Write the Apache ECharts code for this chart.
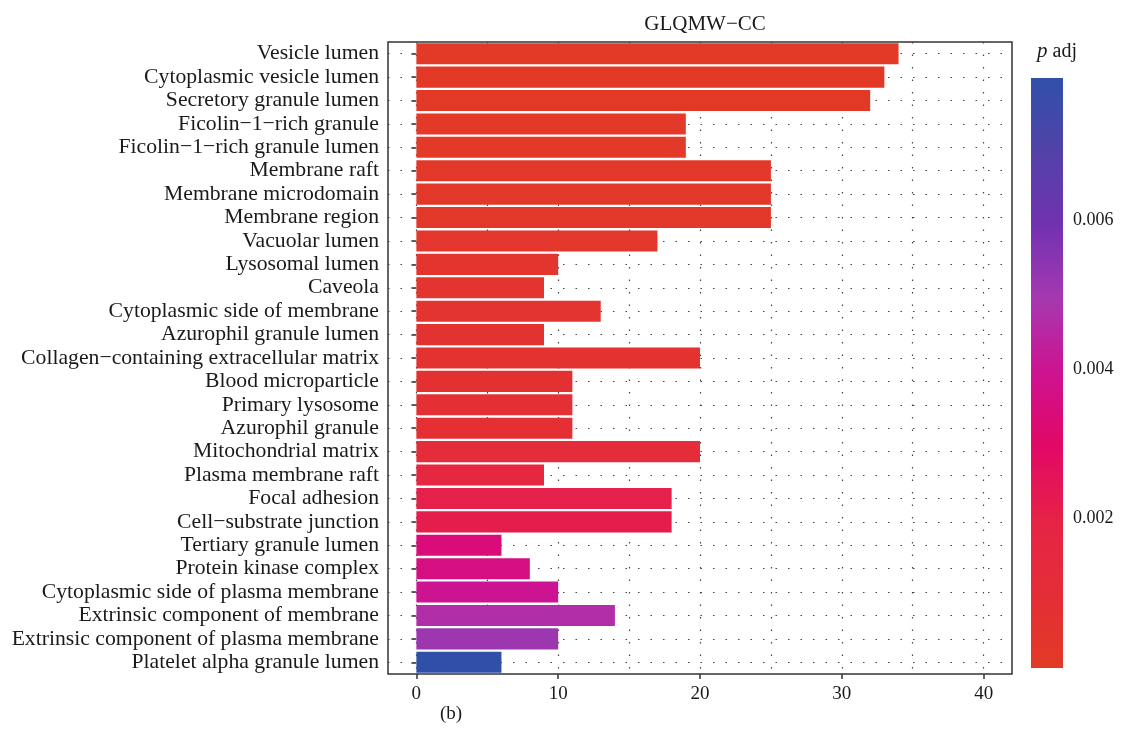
<!DOCTYPE html>
<html>
<head>
<meta charset="utf-8">
<script src="https://cdn.jsdelivr.net/npm/echarts@6/dist/echarts.min.js"></script>
<style>html,body{margin:0;padding:0;background:#fff;}#chart{width:1121px;height:748px;}</style>
</head>
<body>
<div id="chart"></div>
<script>
const categories = [
  'Vesicle lumen', 'Cytoplasmic vesicle lumen', 'Secretory granule lumen',
  'Ficolin\u22121\u2212rich granule', 'Ficolin\u22121\u2212rich granule lumen',
  'Membrane raft', 'Membrane microdomain', 'Membrane region', 'Vacuolar lumen',
  'Lysosomal lumen', 'Caveola', 'Cytoplasmic side of membrane', 'Azurophil granule lumen',
  'Collagen\u2212containing extracellular matrix', 'Blood microparticle', 'Primary lysosome',
  'Azurophil granule', 'Mitochondrial matrix', 'Plasma membrane raft', 'Focal adhesion',
  'Cell\u2212substrate junction', 'Tertiary granule lumen', 'Protein kinase complex',
  'Cytoplasmic side of plasma membrane', 'Extrinsic component of membrane',
  'Extrinsic component of plasma membrane', 'Platelet alpha granule lumen'
];
const geneCounts = [34, 33, 32, 19, 19, 25, 25, 25, 17, 10, 9, 13, 9, 20, 11, 11, 11, 20, 9, 18, 18, 6, 8, 10, 14, 10, 6];
const pAdj = [0.00004, 0.00005, 0.00008, 0.0001, 0.0001, 0.00015, 0.00015, 0.0002, 0.00035, 0.0004,
  0.0005, 0.0005, 0.0006, 0.0006, 0.0007, 0.0008, 0.0009, 0.0012, 0.0016, 0.0021, 0.0022,
  0.0034, 0.0036, 0.0040, 0.0047, 0.0051, 0.0079];
const xTickValues = [0, 10, 20, 30, 40];
const xGridValues = [0, 5, 10, 15, 20, 25, 30, 35, 40];
const legendTickValues = [0.002, 0.004, 0.006];
const pMin = 0, pMax = 0.0079;
const xMin = -2, xMax = 42;

const rampColors = ['#E23A26', '#E42E37', '#E62346', '#E20866', '#CE1290', '#A638B0', '#7232B0', '#5242A8', '#3050A8'];
const FONT = 'Liberation Serif';
const TXT = '#1a1a1a';

const chart = echarts.init(document.getElementById('chart'), null, {renderer: 'canvas'});

const gridMarks = [];
xGridValues.forEach(v => gridMarks.push({xAxis: v}));
categories.forEach(c => gridMarks.push({yAxis: c}));

const option = {
  backgroundColor: '#fff',
  animation: false,
  title: [
    {text: 'GLQMW\u2212CC', left: 700, top: 9, textAlign: 'center',
     textStyle: {fontFamily: FONT, fontSize: 21, fontWeight: 'normal', color: TXT}},
    {text: '{i|p} adj', left: 1032, top: 36,
     textStyle: {fontFamily: FONT, fontSize: 20, fontWeight: 'normal', color: TXT,
       rich: {i: {fontFamily: FONT, fontSize: 21, fontStyle: 'italic', color: TXT}}}},
    {text: '(b)', left: 446, top: 700, textAlign: 'center',
     textStyle: {fontFamily: FONT, fontSize: 19, fontWeight: 'normal', color: TXT}}
  ],
  visualMap: {
    show: false, type: 'continuous', seriesIndex: 0, dimension: 2,
    min: pMin, max: pMax, inRange: {color: rampColors}
  },
  grid: [
    {left: 388, top: 42, width: 624, height: 632, show: true, borderColor: '#333', borderWidth: 1.5, backgroundColor: 'transparent'},
    {left: 1031, top: 78, width: 32, height: 590, show: false}
  ],
  xAxis: [
    {type: 'value', gridIndex: 0, min: xMin, max: xMax,
     axisLine: {show: false}, splitLine: {show: false},
     axisTick: {show: true, customValues: xTickValues, length: 5, lineStyle: {color: '#333', width: 1.5}},
     axisLabel: {customValues: xTickValues, margin: 11, fontFamily: FONT, fontSize: 19, color: TXT}},
    {type: 'category', gridIndex: 1, data: ['p'], show: false}
  ],
  yAxis: [
    {type: 'category', gridIndex: 0, data: categories, inverse: true,
     axisLine: {show: false}, splitLine: {show: false},
     axisTick: {show: true, alignWithLabel: true, length: 5, lineStyle: {color: '#333', width: 1.5}},
     axisLabel: {margin: 9, fontFamily: FONT, fontSize: 21.7, color: TXT, interval: 0}},
    {type: 'value', gridIndex: 1, min: pMin, max: pMax, position: 'right',
     axisLine: {show: false}, splitLine: {show: false},
     axisTick: {show: true, inside: true, customValues: legendTickValues, length: 6, lineStyle: {color: '#fff', width: 1.2, opacity: 0.8}},
     axisLabel: {customValues: legendTickValues, margin: 10, fontFamily: FONT, fontSize: 18, color: TXT,
       formatter: v => v.toFixed(3)}},
    {type: 'value', gridIndex: 1, min: pMin, max: pMax, position: 'left',
     axisLine: {show: false}, splitLine: {show: false},
     axisTick: {show: true, inside: true, customValues: legendTickValues, length: 6, lineStyle: {color: '#fff', width: 1.2, opacity: 0.8}},
     axisLabel: {show: false}}
  ],
  series: [
    {
      type: 'bar', xAxisIndex: 0, yAxisIndex: 0, barWidth: '90%', z: 10,
      encode: {x: 0, y: 1},
      data: geneCounts.map((v, i) => [v, categories[i], pAdj[i]]),
      markLine: {
        silent: true, symbol: 'none', z: 1, animation: false,
        label: {show: false},
        lineStyle: {type: [1.5, 11], color: '#444', width: 1.2},
        data: gridMarks
      }
    },
    {
      type: 'bar', xAxisIndex: 1, yAxisIndex: 1, barWidth: '100%', silent: true,
      data: [pMax],
      itemStyle: {
        color: {type: 'linear', x: 0, y: 1, x2: 0, y2: 0,
          colorStops: rampColors.map((c, i) => ({offset: i / (rampColors.length - 1), color: c}))}
      }
    }
  ]
};
chart.setOption(option);
</script>
</body>
</html>
